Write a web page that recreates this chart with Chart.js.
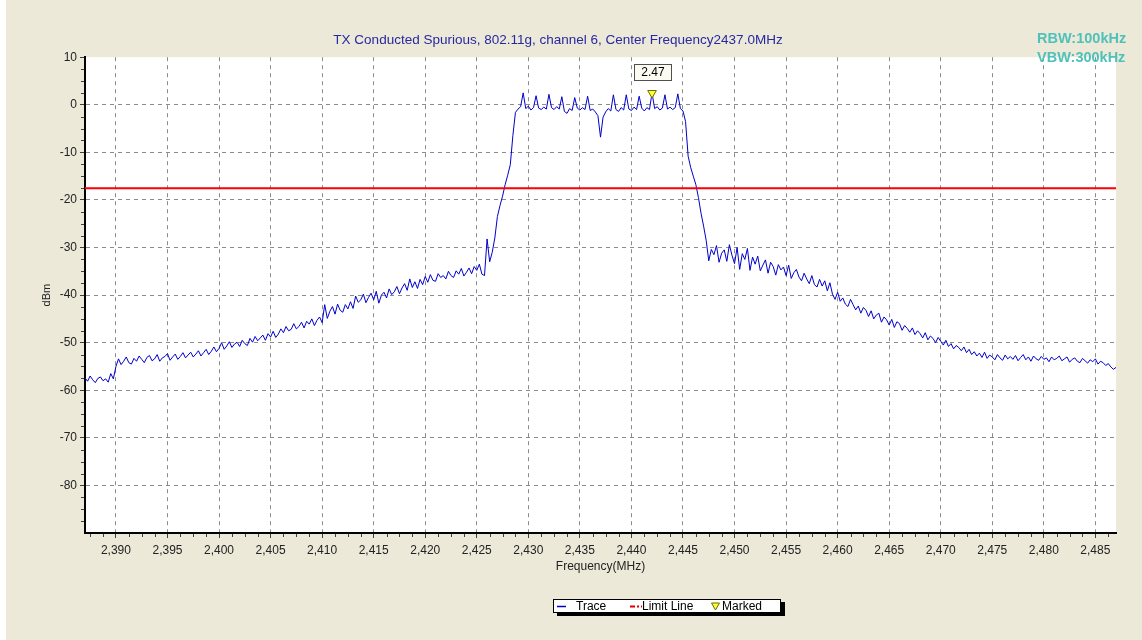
<!DOCTYPE html>
<html>
<head>
<meta charset="utf-8">
<title>TX Conducted Spurious</title>
<script src="https://cdn.jsdelivr.net/npm/chart.js@4.4.1/dist/chart.umd.min.js"></script>
<style>
    html, body { margin: 0; padding: 0; }
    body {
        width: 1142px; height: 640px; position: relative; overflow: hidden;
        background: #ece9d9;
        font-family: "Liberation Sans", Arial, sans-serif;
    }
    #edge { position: absolute; left: 0; top: 0; width: 6px; height: 640px; background: #fff; }
    #chart { position: absolute; left: 0; top: 0; }
    #bw {
        position: absolute; left: 1037px; top: 29px;
        color: #4fc1b9; font-weight: bold; font-size: 14.5px; line-height: 19px;
    }
    #legend {
        position: absolute; left: 553px; top: 599px; width: 228px; height: 14px;
        box-sizing: border-box; border: 1px solid #000; background: #fff;
        box-shadow: 4px 3px 0 #000;
        font-size: 12px; line-height: 12px; color: #000;
    }
    #legend span, #legend svg { position: absolute; top: 0; }
</style>
</head>
<body>
<div id="edge"></div>
<canvas id="chart" width="1142" height="640"></canvas>
<div id="bw">RBW:100kHz<br>VBW:300kHz</div>
<div id="legend">
    <svg style="left:3px" width="10" height="12"><line x1="0" y1="6.5" x2="9" y2="6.5" stroke="#0000cc" stroke-width="1.5"/></svg>
    <span style="left:22px">Trace</span>
    <svg style="left:76px" width="12" height="12"><line x1="0" y1="6.5" x2="12" y2="6.5" stroke="#e00000" stroke-width="2" stroke-dasharray="5,2,2,2"/></svg>
    <span style="left:88px">Limit Line</span>
    <svg style="left:157px" width="9" height="12"><polygon points="0.5,3 8.5,3 4.5,10" fill="#ffff30" stroke="#6b6b00" stroke-width="1"/></svg>
    <span style="left:168px">Marked</span>
</div>
<script>

    // DATA

    // analyzer sweep: start frequency and point spacing (MHz)
    const sweepStartMHz = 2387
    const sweepStepMHz = 0.25

    // trace level (dBm), one value per sweep point, 2387.00 .. 2487.00 MHz
    const traceDbm = [
        // 2387.00
        -57.4, -58.1, -57.0, -57.8, -58.4, -57.5, -57.2, -58.0, -57.6, -58.3,
        -56.5, -57.6, -55.0, -53.4, -54.6, -53.9, -53.0, -54.2, -54.5, -53.3,
        // 2392.00
        -53.9, -52.8, -53.5, -54.2, -53.1, -52.7, -53.8, -53.4, -52.5, -53.9,
        -53.2, -52.9, -52.3, -53.7, -53.0, -52.4, -53.5, -52.9, -52.1, -53.2,
        // 2397.00
        -52.6, -52.0, -53.0, -52.4, -51.7, -52.8, -52.1, -51.4, -52.5, -51.8,
        -50.9, -51.9, -51.2, -50.0, -51.4, -50.7, -49.8, -51.0, -50.3, -49.9,
        // 2402.00
        -50.8, -49.5, -50.2, -50.6, -49.1, -49.9, -48.7, -49.6, -49.0, -48.4,
        -49.5, -48.1, -48.8, -47.6, -48.9, -48.2, -47.1, -47.9, -46.6, -47.5,
        // 2407.00
        -47.2, -46.0, -47.1, -46.6, -45.7, -46.9, -45.5, -46.1, -45.0, -46.4,
        -45.3, -44.6, -45.8, -42.0, -44.9, -43.4, -42.4, -44.0, -41.9, -43.2,
        // 2412.00
        -43.6, -42.0, -42.9, -41.4, -42.8, -40.2, -41.5, -41.0, -39.8, -41.6,
        -40.5, -39.6, -41.0, -39.2, -41.7, -40.0, -39.4, -40.6, -38.7, -39.9,
        // 2417.00
        -39.3, -38.2, -39.7, -38.5, -37.6, -39.0, -36.6, -38.4, -37.2, -38.6,
        -36.7, -37.8, -36.1, -37.3, -35.7, -36.9, -37.1, -35.5, -36.3, -35.9,
        // 2422.00
        -36.6, -35.0, -35.9, -36.3, -34.9, -35.6, -34.4, -36.0, -35.2, -34.3,
        -35.5, -34.0, -34.8, -33.5, -35.6, -35.9, -28.2, -33.0, -31.0, -28.0,
        // 2427.00
        -23.5, -21.2, -19.2, -16.8, -14.8, -12.6, -6.5, -1.6, -0.9, -0.4,
        2.5, -0.8, -0.3, -1.1, -0.6, 1.9, -0.7, -1.0, -0.5, -0.9,
        // 2432.00
        2.2, -0.6, -1.0, -0.4, -0.9, 1.7, -1.4, -1.8, -0.8, -1.2,
        1.5, -0.7, -1.1, -0.6, -1.0, 1.8, -1.2, -0.9, -1.5, -2.3,
        // 2437.00
        -6.8, -2.6, -1.5, -0.8, -1.3, 2.1, -1.0, -1.4, -0.6, -1.1,
        2.1, -0.9, -1.2, -0.5, -1.0, 1.8, -0.7, -1.3, -0.6, -1.0,
        // 2442.00
        2.47, -0.8, -0.4, -1.1, -0.7, 2.1, -0.9, -0.5, -1.0, -0.6,
        2.3, -0.8, -1.3, -3.5, -10.8, -13.2, -15.0, -16.8, -19.5, -22.8,
        // 2447.00
        -25.5, -28.5, -32.8, -30.4, -31.5, -29.6, -33.1, -31.2, -30.5, -32.9,
        -29.4, -31.6, -33.4, -30.0, -34.6, -31.3, -32.5, -30.2, -34.8, -32.0,
        // 2452.00
        -33.5, -31.8, -34.9, -33.7, -32.6, -35.4, -33.1, -34.0, -35.8, -33.6,
        -34.7, -34.1, -35.9, -33.7, -36.5, -35.3, -34.6, -36.2, -37.0, -35.4,
        // 2457.00
        -36.6, -37.6, -35.9, -37.8, -38.3, -36.7, -38.1, -37.0, -39.1, -37.4,
        -39.8, -40.9, -39.4, -41.3, -40.6, -41.9, -42.4, -40.9, -42.0, -43.1,
        // 2462.00
        -42.3, -43.8, -42.6, -43.2, -44.5, -43.3, -45.0, -44.2, -43.8, -45.7,
        -44.6, -45.2, -46.3, -45.1, -46.8, -45.6, -46.0, -47.4, -46.4, -47.0,
        // 2467.00
        -47.8, -46.9, -48.3, -47.5, -48.1, -49.0, -47.9, -49.4, -48.6, -49.1,
        -50.0, -48.9, -49.7, -50.5, -49.5, -50.8, -50.2, -51.3, -50.6, -51.0,
        // 2472.00
        -51.7, -50.9, -52.1, -51.4, -52.5, -51.9, -52.8, -52.2, -53.1, -52.0,
        -53.3, -52.6, -53.0, -53.6, -52.5, -53.2, -53.7, -52.6, -53.4, -52.9,
        // 2477.00
        -53.5, -52.7, -53.8, -53.1, -52.5, -53.6, -53.0, -53.9, -52.8, -53.4,
        -53.7, -52.9, -53.5, -53.2, -54.0, -53.0, -53.6, -53.3, -52.8, -53.8,
        // 2482.00
        -53.4, -53.0, -54.1, -53.5, -53.2, -53.9, -54.2, -53.3, -53.8, -54.3,
        -53.6, -54.0, -53.4, -54.5, -53.9, -54.2, -54.8, -54.4, -55.1, -55.6,
        // 2487.00
        -55.2
    ]

    const limitDbm = [-17.53]
    const markerFreqMHz = [2442.0]
    const markerDbm = [2.47]

    const freqTicks = [2390, 2395, 2400, 2405, 2410, 2415, 2420, 2425, 2430, 2435,
        2440, 2445, 2450, 2455, 2460, 2465, 2470, 2475, 2480, 2485]
    const levelTicks = [-80, -70, -60, -50, -40, -30, -20, -10, 0, 10]
    const freqRange = [2387, 2487]
    const levelRange = [-90, 10]

    const tracePoints = traceDbm.map((v, i) => ({ x: sweepStartMHz + i * sweepStepMHz, y: v }))

    // PLUGINS

    let plotBackground = {
        id: 'plotBackground',
        beforeDraw: function (chart) {
            const { ctx, chartArea: a } = chart
            ctx.save()
            ctx.fillStyle = '#ffffff'
            ctx.fillRect(a.left, a.top, a.right - a.left, a.bottom - a.top)
            ctx.restore()
        }
    }

    // small ticks between the labelled ones (4 per interval)
    let minorTicks = {
        id: 'minorTicks',
        afterDraw: function (chart) {
            const { ctx, chartArea: a, scales: { x, y } } = chart
            ctx.save()
            ctx.strokeStyle = '#404040'
            ctx.lineWidth = 1
            ctx.beginPath()
            const xs = (freqTicks[1] - freqTicks[0]) / 4
            for (let v = freqTicks[0] - Math.floor((freqTicks[0] - x.min) / xs) * xs; v <= x.max; v += xs) {
                if (freqTicks.includes(v)) continue
                const p = Math.round(x.getPixelForValue(v)) + 0.5
                ctx.moveTo(p, a.bottom + 1)
                ctx.lineTo(p, a.bottom + 4)
            }
            const ys = (levelTicks[1] - levelTicks[0]) / 4
            for (let v = y.min + ys; v < y.max; v += ys) {
                if (levelTicks.includes(v)) continue
                const p = Math.round(y.getPixelForValue(v)) + 0.5
                ctx.moveTo(a.left - 1, p)
                ctx.lineTo(a.left - 4, p)
            }
            ctx.stroke()
            ctx.restore()
        }
    }

    // value box above the marker
    let markerLabel = {
        id: 'markerLabel',
        afterDatasetsDraw: function (chart) {
            const { ctx, scales: { x, y } } = chart
            const px = x.getPixelForValue(markerFreqMHz[0])
            const py = y.getPixelForValue(markerDbm[0])
            const text = markerDbm[0].toFixed(2)
            ctx.save()
            ctx.font = '12px "Liberation Sans", Arial, sans-serif'
            const w = Math.round(ctx.measureText(text).width + 14)
            const h = 16
            const bx = Math.round(px - w / 2) + 0.5
            const by = Math.round(py - 29) + 0.5
            ctx.fillStyle = '#fbfbf1'
            ctx.fillRect(bx, by, w, h)
            ctx.strokeStyle = '#505050'
            ctx.lineWidth = 1
            ctx.strokeRect(bx, by, w, h)
            ctx.fillStyle = '#000'
            ctx.textAlign = 'center'
            ctx.textBaseline = 'middle'
            ctx.fillText(text, bx + w / 2, by + h / 2 + 0.5)
            ctx.restore()
        }
    }

    // CHART

    const cnx = document.getElementById('chart')
    const tickFont = { family: '"Liberation Sans", Arial, sans-serif', size: 12 }

    const spectrumChart = new Chart(cnx, {
        type: 'line',
        data: {
            datasets: [
                {
                    label: 'Marked',
                    data: [{ x: markerFreqMHz[0], y: markerDbm[0] }],
                    showLine: false,
                    pointStyle: 'triangle',
                    rotation: 180,
                    pointRadius: 5,
                    backgroundColor: '#ffff30',
                    borderColor: '#6b6b00',
                    borderWidth: 1,
                    order: 0
                },
                {
                    label: 'Limit Line',
                    data: [{ x: freqRange[0], y: limitDbm[0] }, { x: freqRange[1], y: limitDbm[0] }],
                    borderColor: '#ff0000',
                    borderWidth: 2,
                    pointRadius: 0,
                    order: 1
                },
                {
                    label: 'Trace',
                    data: tracePoints,
                    borderColor: '#0000cc',
                    borderWidth: 1,
                    pointRadius: 0,
                    tension: 0,
                    order: 2
                }
            ]
        },
        options: {
            responsive: false,
            animation: false,
            devicePixelRatio: 1,
            layout: {
                padding: { left: 0, right: 26, top: 24, bottom: 65 }
            },
            plugins: {
                legend: { display: false },
                tooltip: { enabled: false },
                title: {
                    display: true,
                    text: 'TX Conducted Spurious, 802.11g, channel 6, Center Frequency2437.0MHz',
                    color: '#2828a0',
                    font: { family: '"Liberation Sans", Arial, sans-serif', size: 13.5, weight: 'normal' },
                    padding: { top: 8, bottom: 9 }
                }
            },
            scales: {
                x: {
                    type: 'linear',
                    min: freqRange[0],
                    max: freqRange[1],
                    afterBuildTicks: function (scale) {
                        scale.ticks = freqTicks.map(v => ({ value: v }))
                    },
                    afterFit: function (scale) {
                        scale.height = 42
                    },
                    ticks: {
                        color: '#222',
                        font: tickFont,
                        padding: 5,
                        maxRotation: 0,
                        callback: function (v) {
                            return String(v).replace(/\B(?=(\d{3})+(?!\d))/g, ',')
                        }
                    },
                    grid: {
                        color: '#8c8c8c',
                        lineWidth: 1,
                        tickLength: 5,
                        tickColor: '#404040',
                        tickBorderDash: []
                    },
                    border: { display: true, color: '#000', width: 2, dash: [4, 4] },
                    title: {
                        display: true,
                        text: 'Frequency(MHz)',
                        color: '#222',
                        font: tickFont,
                        padding: { top: 0, bottom: 1 }
                    }
                },
                y: {
                    type: 'linear',
                    min: levelRange[0],
                    max: levelRange[1],
                    afterBuildTicks: function (scale) {
                        scale.ticks = levelTicks.map(v => ({ value: v }))
                    },
                    afterFit: function (scale) {
                        scale.width = 85
                    },
                    ticks: {
                        color: '#222',
                        font: tickFont,
                        padding: 3
                    },
                    grid: {
                        color: function (c) {
                            return c.tick && c.tick.value === levelRange[1] ? 'rgba(0,0,0,0)' : '#8c8c8c'
                        },
                        lineWidth: 1,
                        tickLength: 5,
                        tickColor: '#404040',
                        tickBorderDash: []
                    },
                    border: { display: true, color: '#000', width: 2, dash: [4, 4] },
                    title: {
                        display: true,
                        text: 'dBm',
                        color: '#222',
                        font: { family: '"Liberation Sans", Arial, sans-serif', size: 11 },
                        padding: { top: 40, bottom: 0 }
                    }
                }
            }
        },
        plugins: [plotBackground, minorTicks, markerLabel]
    })
</script>
</body>
</html>
